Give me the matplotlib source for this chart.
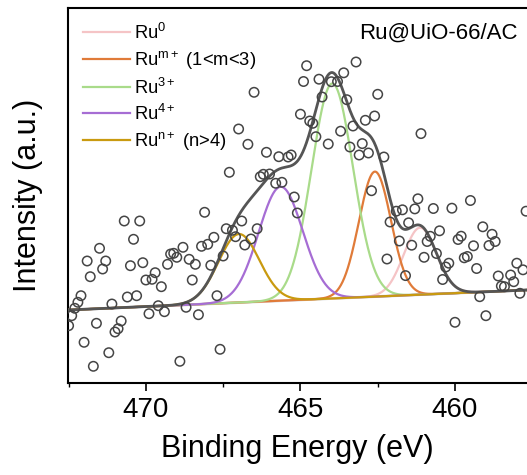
import numpy as np
import matplotlib
matplotlib.use("Agg")
import matplotlib.pyplot as plt
from matplotlib.ticker import MultipleLocator

plt.rcParams['font.family'] = ['Liberation Sans', 'DejaVu Sans']
plt.rcParams['mathtext.fontset'] = 'custom'
plt.rcParams['mathtext.rm'] = 'Liberation Sans'
plt.rcParams['mathtext.it'] = 'Liberation Sans:italic'

# measured points (binding energy in eV, intensity in a.u.)
energy = [472.5, 472.4, 472.3, 472.2, 472.1, 472.0, 471.9, 471.8, 471.7, 471.6,
          471.5, 471.4, 471.3, 471.2, 471.1, 471.0, 470.9, 470.8, 470.7, 470.6,
          470.5, 470.4, 470.3, 470.2, 470.1, 470.0, 469.9, 469.8, 469.7, 469.6,
          469.5, 469.4, 469.3, 469.2, 469.1, 469.0, 468.9, 468.8, 468.7, 468.6,
          468.5, 468.4, 468.3, 468.2, 468.1, 468.0, 467.9, 467.8, 467.7, 467.6,
          467.5, 467.4, 467.3, 467.2, 467.1, 467.0, 466.9, 466.8, 466.7, 466.6,
          466.5, 466.4, 466.3, 466.2, 466.1, 466.0, 465.8, 465.7, 465.6, 465.4,
          465.3, 465.2, 465.1, 465.0, 464.9, 464.8, 464.7, 464.6, 464.5, 464.4,
          464.3, 464.1, 464.0, 463.8, 463.7, 463.6, 463.5, 463.4, 463.3, 463.2,
          463.1, 463.0, 462.9, 462.8, 462.7, 462.6, 462.5, 462.3, 462.2, 462.1,
          461.9, 461.8, 461.7, 461.6, 461.5, 461.4, 461.3, 461.2, 461.1, 461.0,
          460.9, 460.8, 460.7, 460.6, 460.5, 460.4, 460.3, 460.2, 460.1, 460.0,
          459.9, 459.8, 459.7, 459.6, 459.5, 459.4, 459.3, 459.2, 459.1, 459.0,
          458.9, 458.8, 458.7, 458.6, 458.5, 458.4, 458.2, 458.1, 458.0, 457.9,
          457.8, 457.7]
counts = [57.3, 67.3, 74.7, 80.7, 87.3, 40.7, 122.0, 106.3, 16.7, 59.7,
          134.7, 114.0, 122.0, 30.3, 79.0, 51.0, 54.3, 62.0, 162.0, 86.0,
          117.3, 143.7, 87.3, 162.0, 120.3, 103.0, 69.3, 103.7, 110.3, 77.3,
          96.3, 71.3, 118.7, 129.0, 129.7, 125.7, 21.7, 135.7, 75.7, 123.7,
          103.0, 118.7, 68.3, 136.7, 170.7, 138.7, 117.7, 145.7, 87.3, 33.7,
          127.0, 154.3, 210.7, 152.7, 146.3, 254.0, 162.0, 138.0, 238.7, 144.0,
          290.7, 154.3, 206.3, 208.7, 230.7, 209.0, 199.7, 226.3, 200.7, 226.0,
          228.0, 186.0, 170.0, 268.8, 301.5, 317.3, 262.0, 259.7, 246.3, 303.8,
          286.0, 239.0, 301.3, 301.5, 251.8, 310.2, 283.3, 236.0, 257.0, 321.0,
          228.0, 239.4, 262.7, 230.0, 192.3, 267.0, 288.7, 226.0, 124.0, 161.0,
          171.8, 142.0, 173.2, 107.4, 160.2, 137.8, 174.1, 184.2, 249.4, 125.7,
          141.5, 146.7, 174.5, 129.5, 152.2, 103.5, 116.0, 119.8, 174.8, 60.7,
          143.5, 146.8, 125.2, 126.5, 182.5, 137.2, 114.5, 86.3, 156.2, 67.3,
          137.5, 148.7, 141.5, 107.0, 97.0, 96.3, 108.0, 101.3, 119.8, 89.7,
          113.2, 171.8]

# fitted components
labels = [r'Ru$^{\mathrm{0}}$', r'Ru$^{\mathrm{m+}}$ (1<m<3)', r'Ru$^{\mathrm{3+}}$',
          r'Ru$^{\mathrm{4+}}$', r'Ru$^{\mathrm{n+}}$ (n>4)']
centers = [461.13, 462.59, 463.97, 465.64, 466.99]
heights = [67, 125, 215, 114, 68.5]
fwhm = [1.25, 1.22, 1.58, 1.68, 1.56]
colors = ['#F5C4C6', '#E07B39', '#A9DB8A', '#A66DD4', '#C99A10']

# linear background end points
bg_energy = [472.52, 457.67]
bg_level = [73, 93]

x = np.linspace(472.52, 457.67, 800)
bg = np.interp(x, bg_energy[::-1], bg_level[::-1])

fig = plt.figure(figsize=(5.27, 4.75), dpi=100)
ax = fig.add_axes([68 / 527, 1 - 383 / 475, 459 / 527, 375 / 475])

ax.plot(x, bg, color='#D0D0D0', lw=2, zorder=2)
envelope = bg.copy()
for c, h, w, col, lab in zip(centers, heights, fwhm, colors, labels):
    s = w / 2.3548
    peak = h * np.exp(-(x - c) ** 2 / (2 * s ** 2))
    envelope += peak
    ax.plot(x, bg + peak, color=col, lw=1.6, label=lab, zorder=3)
ax.plot(x, envelope, color='#555555', lw=2, zorder=4)

ax.scatter(energy, counts, s=46, facecolors='none', edgecolors='#454545',
           linewidths=1.1, zorder=5)

ax.set_xlim(472.52, 457.67)
ax.set_ylim(0, 375)
ax.xaxis.set_major_locator(MultipleLocator(5))
ax.xaxis.set_minor_locator(MultipleLocator(2.5))
ax.tick_params(axis='x', which='major', direction='out', length=6, width=1.2,
               labelsize=20, pad=4)
ax.tick_params(axis='x', which='minor', direction='out', length=3, width=1.0)
ax.set_yticks([])
for sp in ['left', 'bottom', 'top']:
    ax.spines[sp].set_linewidth(1.5)
ax.spines['right'].set_visible(False)

ax.set_xlabel('Binding Energy (eV)', fontsize=22, labelpad=8)
ax.set_ylabel('Intensity (a.u.)', fontsize=22, labelpad=18)

ax.text(0.98, 0.933, 'Ru@UiO-66/AC', transform=ax.transAxes, fontsize=16,
        ha='right', va='center')

ax.legend(loc='upper left', frameon=False, fontsize=13.2, handlelength=2.6,
          handletextpad=0.2, labelspacing=0.33, borderaxespad=0.4,
          bbox_to_anchor=(0.0, 1.0))

fig.savefig('out.png', dpi=100)
